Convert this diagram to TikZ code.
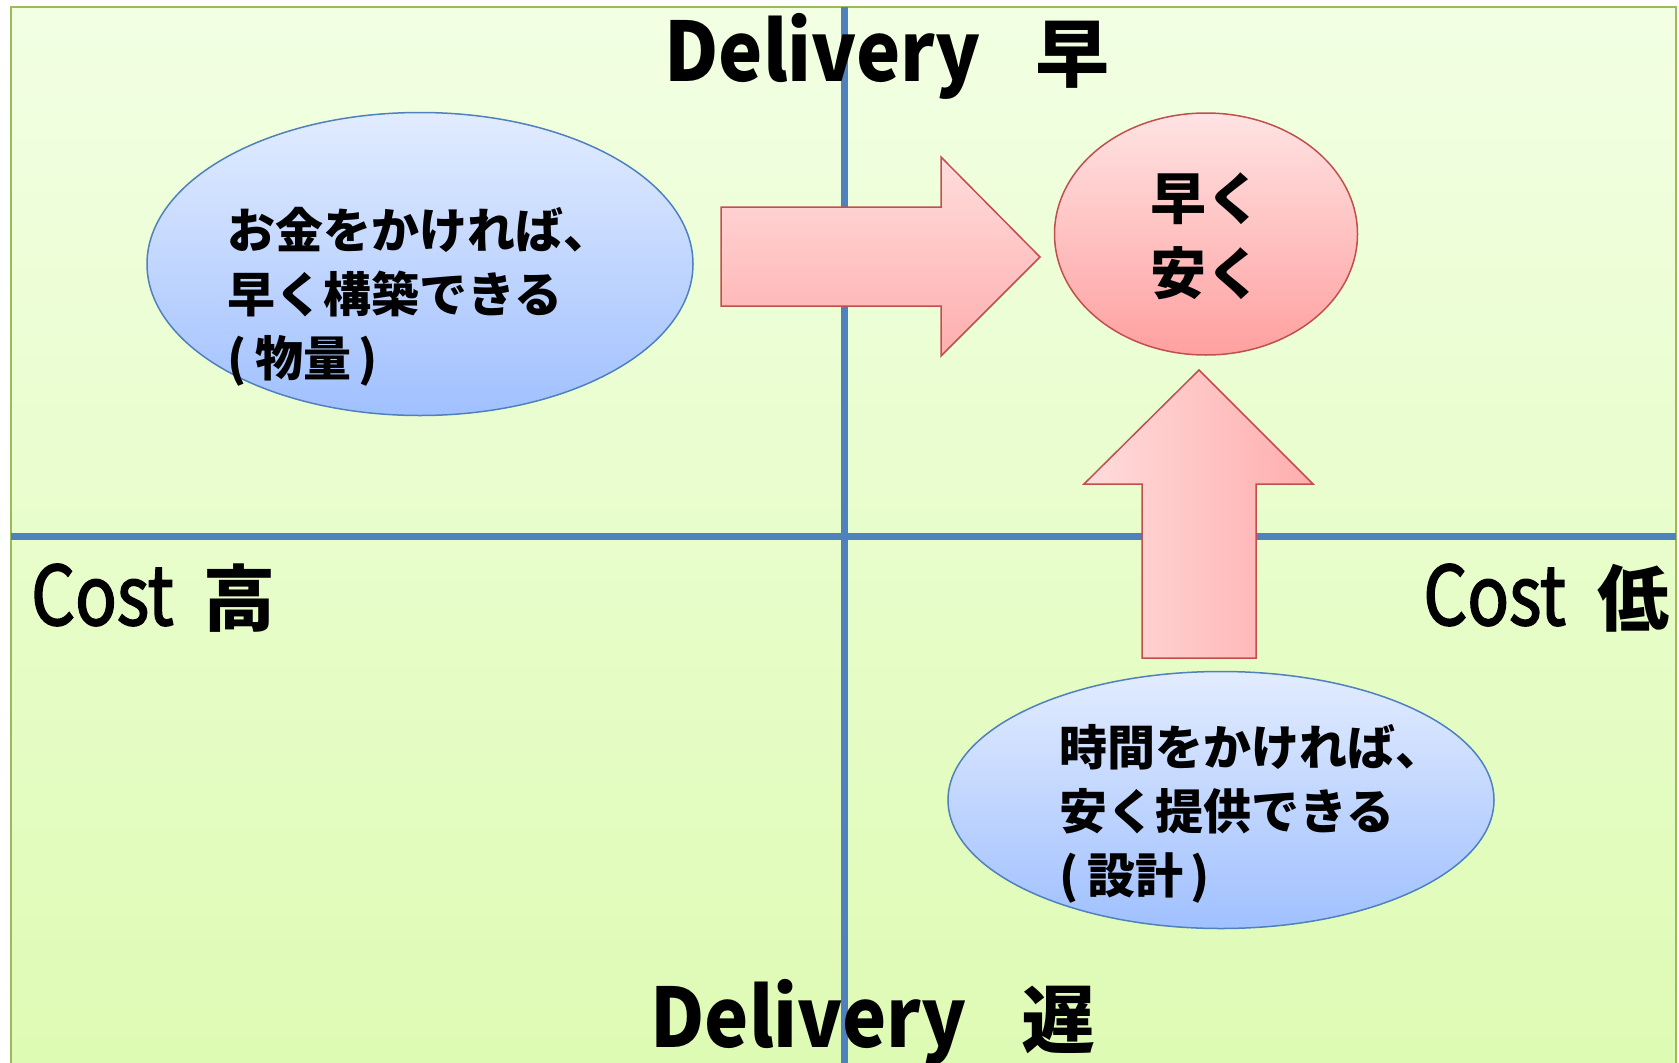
\documentclass[tikz,border=0pt]{standalone}
\usepackage{fontspec}
\setmainfont{Noto Sans CJK JP}
\newfontfamily\latinfont[FakeStretch=0.91]{Noto Sans CJK JP}
\newfontfamily\costfont[FakeStretch=0.84,FakeBold=2]{Noto Sans CJK JP}
\usetikzlibrary{shapes.geometric}
\definecolor{bgtop}{HTML}{F2FFE3}
\definecolor{bgbot}{HTML}{DEFBB4}
\definecolor{bgedge}{HTML}{9BBB59}
\definecolor{axis}{HTML}{4F81BD}
\definecolor{bluetop}{HTML}{E2ECFF}
\definecolor{bluebot}{HTML}{A0C0FF}
\definecolor{blueedge}{HTML}{4F81BD}
\definecolor{pinktop}{HTML}{FFE3E3}
\definecolor{pinkbot}{HTML}{FFA0A0}
\definecolor{pinkedge}{HTML}{C0504D}
\tikzset{
  axisline/.style={axis, line width=7pt},
  bubble/.style={ellipse, draw=blueedge, line width=1.5pt, top color=bluetop, bottom color=bluebot, inner sep=0pt},
  goal/.style={ellipse, draw=pinkedge, line width=1.5pt, top color=pinktop, bottom color=pinkbot, inner sep=0pt},
  blockarrow/.style={draw=pinkedge, line width=1.5pt, line join=miter},
  bubbletext/.style={align=left, inner sep=0pt, font=\bfseries\fontsize{48}{64}\selectfont},
  goaltext/.style={align=center, inner sep=0pt, font=\bfseries\fontsize{56}{75}\selectfont},
  axislabel/.style={inner sep=0pt}
}
\begin{document}
\begin{tikzpicture}[x=1pt,y=-1pt]
\useasboundingbox (0,0) rectangle (1679,1063);
% background
\shade[top color=bgtop, bottom color=bgbot] (11,7) rectangle (1676,1063);
\draw[bgedge, line width=2pt] (11,1063) -- (11,7) -- (1676,7) -- (1676,1063);
% axes
\coordinate (vtop) at (844,7);
\coordinate (vbot) at (844,1063);
\coordinate (hleft) at (11,536);
\coordinate (hright) at (1676,536);
\draw[axisline] (vtop) -- (vbot);
\draw[axisline] (hleft) -- (hright);
% axis labels
\node[axislabel, anchor=base west] (dtop) at (664,81)
  {{\latinfont\bfseries\fontsize{82}{82}\selectfont Delivery}\hspace{55pt}{\bfseries\fontsize{74}{74}\selectfont 早}};
\node[axislabel, anchor=base west] (dbot) at (650,1047)
  {{\latinfont\bfseries\fontsize{82}{82}\selectfont Delivery}\hspace{55pt}{\bfseries\fontsize{74}{74}\selectfont 遅}};
\node[axislabel, anchor=base west] (chigh) at (31,625)
  {{\costfont\fontsize{82}{82}\selectfont Cost}\hspace{30pt}{\bfseries\fontsize{72}{72}\selectfont 高}};
\node[axislabel, anchor=base east] (clow) at (1670,625)
  {{\costfont\fontsize{82}{82}\selectfont Cost}\hspace{32pt}{\bfseries\fontsize{72}{72}\selectfont 低}};
% ellipses
\node[bubble, minimum width=546pt, minimum height=303pt] (money) at (420,264) {};
\node[bubbletext, anchor=north west] (moneytext) at (227,207)
  {お金をかければ、\\早く構築できる\\(\hspace{9pt}物量\hspace{7pt})};
\node[goal, minimum width=303pt, minimum height=242pt] (goal) at (1206,234) {};
\node[goaltext] (goaltext) at (1206,236) {早く\\安く};
\node[bubble, minimum width=546pt, minimum height=257pt] (time) at (1221,800) {};
\node[bubbletext, anchor=north west] (timetext) at (1059,724)
  {時間をかければ、\\安く提供できる\\(\hspace{9pt}設計\hspace{7pt})};
% block arrows
\shade[top color=pinktop!90!pinkbot, bottom color=pinkbot!80!pinktop]
  (721,207) -- (941,207) -- (941,157) -- (1040,257) -- (941,356) -- (941,306) -- (721,306) -- cycle;
\draw[blockarrow]
  (721,207) -- (941,207) -- (941,157) -- (1040,257) -- (941,356) -- (941,306) -- (721,306) -- cycle;
\shade[left color=pinktop!90!pinkbot, right color=pinkbot!80!pinktop]
  (1142,658) -- (1142,484) -- (1084,484) -- (1199,370) -- (1313,484) -- (1256,484) -- (1256,658) -- cycle;
\draw[blockarrow]
  (1142,658) -- (1142,484) -- (1084,484) -- (1199,370) -- (1313,484) -- (1256,484) -- (1256,658) -- cycle;
\end{tikzpicture}
\end{document}
